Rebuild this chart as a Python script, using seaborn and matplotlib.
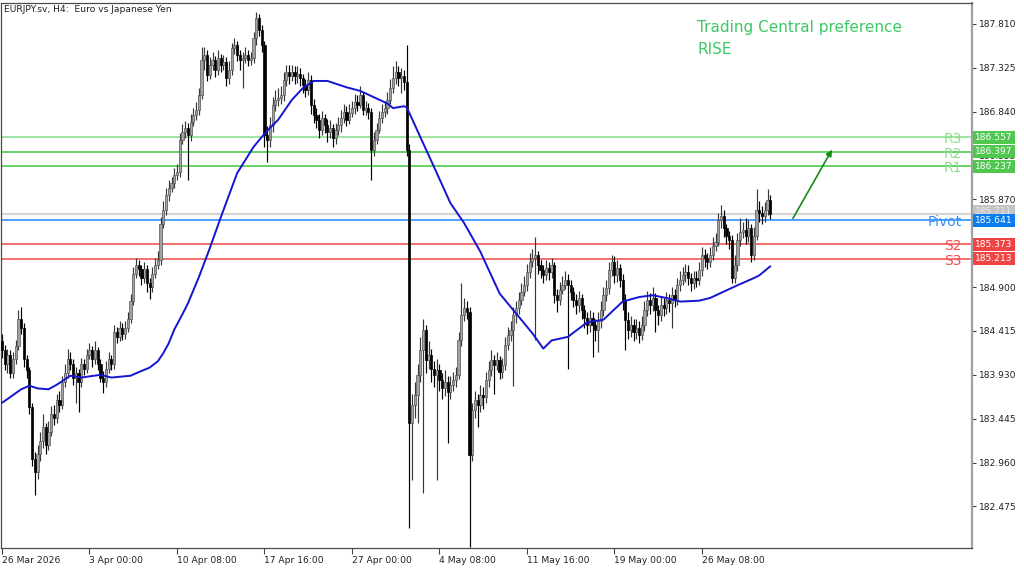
import numpy as np
import pandas as pd
import matplotlib
matplotlib.use("Agg")
import matplotlib.pyplot as plt
import matplotlib.transforms as mtransforms
import seaborn as sns

# ---------------- data ----------------
first_open = 184.30
closes = [
 184.20,184.05,184.15,183.95,184.10,184.25,184.55,184.45,184.10,183.98,
 183.57,183.00,182.85,183.05,183.20,183.35,183.15,183.30,183.50,183.45,
 183.65,183.60,183.85,183.95,184.10,184.05,183.90,183.95,183.85,184.05,
 184.00,184.15,184.20,184.10,184.20,184.05,183.90,183.85,184.00,184.10,
 184.05,184.40,184.35,184.45,184.38,184.45,184.55,184.75,185.05,185.15,
 185.10,185.00,185.10,184.95,184.90,185.05,185.15,185.20,185.60,185.75,
 185.92,186.00,186.05,186.14,186.17,186.53,186.62,186.66,186.58,186.73,
 186.80,186.86,187.02,187.41,187.47,187.25,187.36,187.41,187.30,187.43,
 187.36,187.39,187.21,187.30,187.54,187.58,187.47,187.41,187.43,187.47,
 187.41,187.43,187.65,187.88,187.74,187.58,186.58,186.53,186.69,186.91,
 186.97,186.99,187.02,187.19,187.28,187.24,187.28,187.23,187.26,187.21,
 187.13,187.08,187.19,186.91,186.80,186.75,186.64,186.77,186.69,186.62,
 186.66,186.55,186.64,186.69,186.77,186.84,186.75,186.83,186.88,186.95,
 186.91,187.02,186.86,186.88,186.84,186.42,186.53,186.64,186.77,186.84,
 186.88,186.97,187.10,187.21,187.28,187.21,187.24,187.17,186.42,183.40,
 183.60,183.71,183.93,184.20,184.43,184.09,184.15,184.00,183.93,183.98,
 183.87,183.78,183.85,183.74,183.82,183.87,183.93,184.31,184.59,184.67,
 184.62,183.04,183.54,183.65,183.60,183.71,183.68,183.87,183.98,184.09,
 184.04,184.09,183.96,184.04,184.26,184.37,184.43,184.59,184.67,184.76,
 184.85,184.92,185.07,185.18,185.22,185.25,185.14,185.09,185.03,185.11,
 185.07,185.14,184.81,184.76,184.87,184.92,184.98,184.92,184.85,184.76,
 184.70,184.78,184.65,184.56,184.48,184.56,184.48,184.43,184.52,184.65,
 184.81,184.89,185.09,185.18,185.03,185.11,184.98,184.76,184.54,184.43,
 184.48,184.40,184.45,184.37,184.48,184.65,184.76,184.70,184.78,184.65,
 184.59,184.70,184.67,184.76,184.72,184.81,184.76,184.92,184.98,185.03,
 185.07,185.00,184.95,185.00,184.98,185.09,185.25,185.22,185.18,185.25,
 185.36,185.40,185.64,185.69,185.55,185.47,185.42,185.00,185.14,185.42,
 185.51,185.53,185.47,185.55,185.25,185.47,185.75,185.72,185.69,185.75,
 185.86,185.711]
highs = [
 184.38,184.26,184.22,184.20,184.18,184.32,184.65,184.68,184.50,184.15,
 184.02,183.62,183.08,183.15,183.30,183.50,183.40,183.42,183.58,183.60,
 183.72,183.75,183.92,184.05,184.22,184.18,184.10,184.02,184.00,184.12,
 184.10,184.22,184.28,184.25,184.30,184.24,184.10,183.97,184.08,184.18,
 184.15,184.48,184.46,184.52,184.50,184.53,184.62,184.82,185.12,185.22,
 185.20,185.15,185.18,185.14,185.00,185.12,185.22,185.30,185.68,185.85,
 186.00,186.08,186.12,186.22,186.26,186.60,186.70,186.74,186.72,186.82,
 186.88,186.95,187.10,187.55,187.56,187.52,187.45,187.50,187.46,187.52,
 187.48,187.47,187.44,187.40,187.60,187.65,187.62,187.52,187.50,187.55,
 187.52,187.50,187.72,187.94,187.92,187.80,187.62,186.68,186.78,187.00,
 187.08,187.10,187.12,187.28,187.36,187.36,187.36,187.34,187.34,187.32,
 187.26,187.20,187.28,187.25,186.98,186.88,186.82,186.85,186.82,186.76,
 186.75,186.70,186.72,186.78,186.86,186.92,186.90,186.92,186.96,187.04,
 187.02,187.12,187.06,186.96,186.94,186.88,186.62,186.72,186.85,186.92,
 186.96,187.06,187.20,187.34,187.40,187.35,187.32,187.30,187.58,186.48,
 183.72,183.85,184.05,184.35,184.55,184.48,184.30,184.22,184.08,184.10,
 184.05,183.95,183.98,183.92,183.92,183.96,184.02,184.40,184.95,184.78,
 184.75,184.68,183.62,183.75,183.72,183.82,183.80,183.96,184.08,184.20,
 184.15,184.18,184.14,184.12,184.35,184.46,184.52,184.68,184.75,184.85,
 184.95,185.02,185.16,185.28,185.32,185.45,185.30,185.20,185.15,185.20,
 185.18,185.22,185.18,184.88,184.96,185.02,185.08,185.05,184.98,184.90,
 184.82,184.86,184.82,184.70,184.62,184.65,184.62,184.55,184.62,184.75,
 184.90,184.98,185.18,185.26,185.24,185.20,185.16,185.05,184.82,184.62,
 184.58,184.55,184.55,184.52,184.58,184.75,184.86,184.84,184.90,184.84,
 184.70,184.80,184.78,184.85,184.82,184.90,184.88,185.00,185.08,185.12,
 185.16,185.14,185.06,185.08,185.08,185.18,185.34,185.32,185.28,185.34,
 185.45,185.50,185.72,185.81,185.75,185.60,185.52,185.48,185.25,185.50,
 185.66,185.62,185.66,185.64,185.60,185.56,185.99,185.85,185.80,185.84,
 185.99,185.92]
lows = [
 184.12,183.98,183.95,183.90,183.90,184.05,184.20,184.38,184.02,183.90,
 183.50,182.92,182.60,182.78,182.98,183.12,183.05,183.10,183.25,183.38,
 183.40,183.52,183.55,183.80,183.90,183.98,183.82,183.62,183.52,183.80,
 183.93,183.95,184.10,184.02,184.05,183.98,183.85,183.73,183.80,183.95,
 183.98,184.00,184.28,184.30,184.32,184.33,184.40,184.50,184.70,185.00,
 185.02,184.92,184.95,184.85,184.77,184.85,185.00,185.10,185.15,185.55,
 185.70,185.85,185.95,186.00,186.08,186.12,186.48,186.55,186.08,186.52,
 186.68,186.75,186.80,186.98,187.30,187.18,187.20,187.30,187.22,187.25,
 187.28,187.30,187.12,187.15,187.25,187.48,187.40,187.30,187.10,187.38,
 187.35,187.36,187.38,187.58,187.68,187.50,186.45,186.28,186.45,186.62,
 186.85,186.90,186.92,186.96,187.12,187.15,187.18,187.15,187.16,187.12,
 187.05,187.00,187.02,186.82,186.72,186.66,186.55,186.58,186.60,186.50,
 186.55,186.45,186.48,186.58,186.62,186.72,186.68,186.70,186.78,186.82,
 186.85,186.88,186.80,186.80,186.76,186.08,186.35,186.48,186.60,186.72,
 186.78,186.82,186.92,187.05,187.15,187.12,187.05,187.08,186.35,182.24,
 182.77,183.45,183.40,183.85,182.62,183.95,184.00,183.85,183.80,182.77,
 183.75,183.66,183.70,183.18,183.66,183.75,183.80,183.88,184.25,184.52,
 184.55,182.03,182.98,183.45,183.35,183.52,183.55,183.62,183.80,183.92,
 183.72,183.98,183.88,183.90,183.98,184.20,184.30,183.81,184.50,184.60,
 184.70,184.80,184.86,185.00,185.12,184.31,185.05,185.00,184.95,184.98,
 184.98,185.00,184.72,184.62,184.70,184.82,184.88,183.99,184.76,184.68,
 184.60,184.62,184.55,184.45,184.38,184.40,184.13,184.30,184.18,184.45,
 184.58,184.75,184.82,185.02,184.95,184.96,184.90,184.65,184.20,184.33,
 184.35,184.30,184.33,184.28,184.32,184.42,184.58,184.60,184.64,184.40,
 184.48,184.52,184.58,184.60,184.62,184.45,184.68,184.70,184.86,184.92,
 184.96,184.92,184.86,184.88,184.90,184.92,185.02,185.12,185.10,185.12,
 185.20,185.30,185.35,185.55,185.45,185.38,185.32,184.95,184.95,185.08,
 185.36,185.44,185.38,185.40,185.18,185.20,185.42,185.62,185.60,185.62,
 185.70,185.65]
opens = [first_open] + closes[:-1]

# moving average readings (bar index, value)
ma_bar = [0,7,10,13,17,20,25,29,36,40,47,50,54,57,59,61,63,66,68,72,76,80,86,92,95,
          98,101,106,110,114,119,126,131,136,141,143,147,148,150,153,158,164,169,
          175,182,188,194,198,201,207,214,220,227,233,238,243,248,255,259,264,269,
          275,277,281]
ma_val = [183.62,183.77,183.81,183.78,183.77,183.82,183.92,183.90,183.93,183.90,
          183.92,183.96,184.01,184.08,184.17,184.28,184.43,184.60,184.72,185.01,
          185.33,185.67,186.16,186.45,186.56,186.66,186.75,186.97,187.10,187.18,
          187.18,187.11,187.07,187.00,186.93,186.88,186.90,186.89,186.76,186.56,
          186.23,185.83,185.61,185.29,184.83,184.61,184.39,184.22,184.31,184.35,
          184.51,184.54,184.74,184.79,184.81,184.78,184.74,184.75,184.78,184.85,
          184.92,185.00,185.03,185.13]

level_names = ["R3", "R2", "R1", "Pivot", "S2", "S3"]
level_values = [186.557, 186.397, 186.237, 185.641, 185.373, 185.213]
bid_price = 185.711

ytick_values = [182.475, 182.960, 183.445, 183.930, 184.415, 184.900,
                185.385, 185.870, 186.355, 186.840, 187.325, 187.810]
xtick_bars = [0, 32, 64, 96, 128, 160, 192, 224, 256]
xtick_labels = ["26 Mar 2026", "3 Apr 00:00", "10 Apr 08:00", "17 Apr 16:00",
                "27 Apr 00:00", "4 May 08:00", "11 May 16:00", "19 May 00:00",
                "26 May 08:00"]
title_text = "EURJPY.sv, H4:  Euro vs Japanese Yen"
pref_lines = ["Trading Central preference", "RISE"]
arrow_from = (289.3, 185.66)
arrow_to = (303.6, 186.42)

# ---------------- style ----------------
sns.set_theme(style="white")
plt.rcParams['font.family'] = ['DejaVu Sans']

df = pd.DataFrame({"o": opens, "h": highs, "l": lows, "c": closes})
df["bar"] = np.arange(len(df))
df["bull"] = df["c"] >= df["o"]

fig = plt.figure(figsize=(10.24, 5.70), dpi=100)
ax = fig.add_axes([1/1024, 22/570, 971/1024, 545/570])
ax.set_facecolor("white")

# level lines
level_line_colors = ["#86dc86", "#3cc83c", "#3cc83c", "#1e88ff", "#f04848", "#f04848"]
level_text_colors = ["#8cdc8c", "#8cdc8c", "#8cdc8c", "#3a8ef2", "#f05050", "#f05050"]
box_colors = ["#50c850", "#50c850", "#50c850", "#0a7cf2", "#f04444", "#f04444"]

ax.axhline(bid_price, color="#d4d4d4", lw=1.6, zorder=1)
for name, val, lc in zip(level_names, level_values, level_line_colors):
    ax.axhline(val, color=lc, lw=1.1, zorder=1)

# candles
bull = df[df["bull"]]
bear = df[~df["bull"]]
ax.vlines(bull["bar"], bull["l"], bull["h"], color="#383838", lw=0.85, zorder=2)
ax.vlines(bear["bar"], bear["l"], bear["h"], color="black", lw=0.85, zorder=2)
bh = (bull["c"] - bull["o"]).clip(lower=0.012)
ax.bar(bull["bar"], bh, bottom=bull["o"], width=0.8, color="#a2a2a2",
       edgecolor="#555555", linewidth=0.5, zorder=3)
rh = (bear["o"] - bear["c"]).clip(lower=0.012)
ax.bar(bear["bar"], rh, bottom=bear["c"], width=0.8, color="black",
       edgecolor="black", linewidth=0.5, zorder=3)

# moving average
sns.lineplot(x=ma_bar, y=ma_val, color="#1414d2", lw=1.4, ax=ax, zorder=4)

# axes limits
ax.set_xlim(-0.37, 354.8)
ax.set_ylim(182.015, 188.042)

# spines
for s in ["left", "top", "bottom"]:
    ax.spines[s].set_color("#4a4a4a")
    ax.spines[s].set_linewidth(0.9)
ax.spines["right"].set_color("#a0a0a0")
ax.spines["right"].set_linewidth(1.6)

# y ticks on right
ax.yaxis.tick_right()
ax.set_yticks(ytick_values)
ax.set_yticklabels([f"{v:.3f}" for v in ytick_values])
ax.tick_params(axis="y", which="major", direction="out", length=3, width=0.8,
               color="#404040", labelsize=6.6, pad=2, labelcolor="#202020", right=True, left=False)

# x ticks
ax.set_xticks(xtick_bars)
ax.set_xticklabels(xtick_labels)
for lab in ax.get_xticklabels():
    lab.set_horizontalalignment("left")
ax.tick_params(axis="x", which="major", direction="out", length=4, width=0.8,
               color="#404040", labelsize=6.6, pad=2, labelcolor="#202020", bottom=True)
ax.set_xlabel("")
ax.set_ylabel("")
ax.grid(False)

trans = mtransforms.blended_transform_factory(ax.transAxes, ax.transData)

# level labels inside the plot
for name, val, tc in zip(level_names, level_values, level_text_colors):
    ax.text(0.9897, val - 0.02, name, transform=trans, color=tc, fontsize=10,
            ha="right", va="center", zorder=6)

# price boxes on the right
ax.text(1.0035, bid_price + 0.02, f"{bid_price:.3f}", transform=trans, color="#e8e8e8",
        fontsize=6.6, ha="left", va="center", clip_on=False, zorder=7,
        bbox=dict(boxstyle="square,pad=0.22", fc="#c4c4c4", ec="none"))
for name, val, bc in zip(level_names, level_values, box_colors):
    ax.text(1.0035, val, f"{val:.3f}", transform=trans, color="white",
            fontsize=6.6, ha="left", va="center", clip_on=False, zorder=8,
            bbox=dict(boxstyle="square,pad=0.22", fc=bc, ec="none"))

# title
ax.text(0.003, 0.996, title_text, transform=ax.transAxes, fontsize=6.6,
        color="#202020", ha="left", va="top", zorder=6)

# preference text
ax.text(0.7168, 0.955, pref_lines[0], transform=ax.transAxes, fontsize=11,
        color="#3cc864", ha="left", va="center", zorder=6)
ax.text(0.7168, 0.915, pref_lines[1], transform=ax.transAxes, fontsize=11,
        color="#3cc864", ha="left", va="center", zorder=6)

# arrow
ax.annotate("", xy=arrow_to, xytext=arrow_from,
            arrowprops=dict(arrowstyle="-|>", color="#168a16", lw=1.2,
                            mutation_scale=9, shrinkA=0, shrinkB=0), zorder=6)

fig.savefig("out.png", dpi=100, facecolor="white")
